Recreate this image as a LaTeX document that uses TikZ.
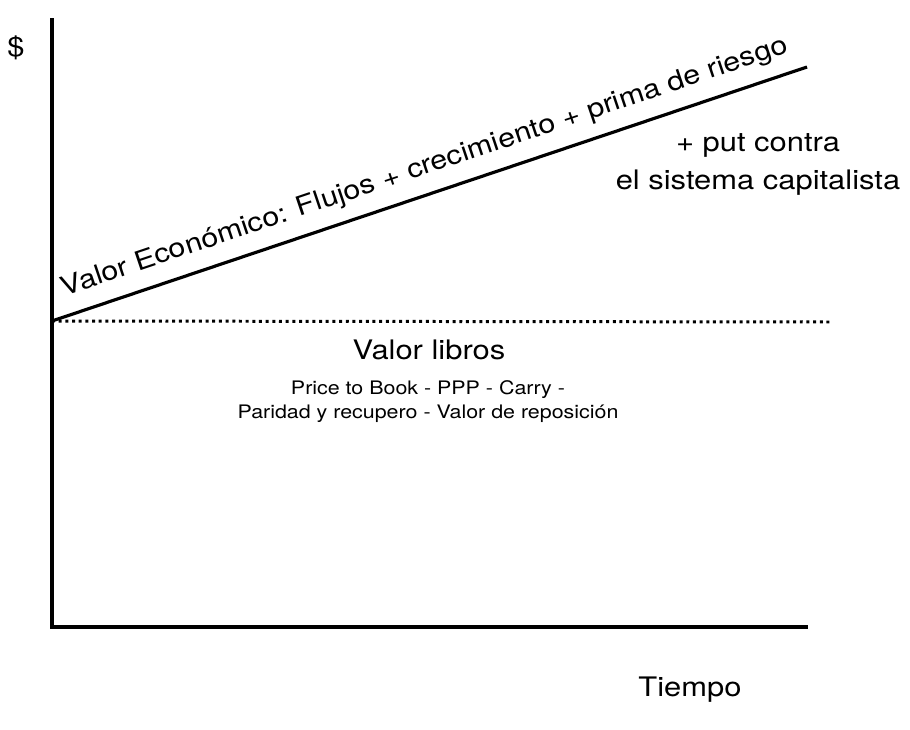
\documentclass[tikz,border=0pt]{standalone}
\usepackage{fontspec}
\setmainfont{TeX Gyre Heros}[FakeStretch=1.15]
\begin{document}
\begin{tikzpicture}[x=0.02cm, y=-0.02cm,
        every node/.style={font=\fontsize{15.3}{18}\selectfont, inner sep=0pt},
        smalltext/.style={font=\fontsize{10.6}{13.7}\selectfont, align=center},
        axis/.style={line width=2.2pt},
        valueline/.style={line width=1.8pt},
        bookline/.style={line width=1.7pt, dash pattern=on 1.7pt off 2.1pt}
      ]
      \useasboundingbox (0,0) rectangle (910,730);
      \coordinate (ytop) at (52,18);
      \coordinate (origin) at (52,627);
      \coordinate (xend) at (808,627);
      \coordinate (vstart) at (52,321);
      \coordinate (vend) at (807,67);
      \coordinate (bend) at (832,322);
      \draw[axis] (ytop) -- (origin) -- (xend);
      \draw[valueline] (vstart) -- (vend)
        node[pos=0.505, sloped, above=7pt, font=\fontsize{15.1}{18}\selectfont] (econ)
        {Valor Económico: Flujos + crecimiento + prima de riesgo};
      \draw[bookline] (vstart) -- (bend);
      \node (dollar) at (16,48) {\$};
      \node[align=center, font=\fontsize{15.3}{21.6}\selectfont] (put) at (758,164)
      {+ put contra\\el sistema capitalista};
      \node (libros) at (429,350) {Valor libros};
      \node[smalltext] (metodos) at (428,402)
      {Price to Book - PPP - Carry -\\Paridad y recupero - Valor de reposición};
      \node (tiempo) at (690,690) {Tiempo};
    \end{tikzpicture}
\end{document}
